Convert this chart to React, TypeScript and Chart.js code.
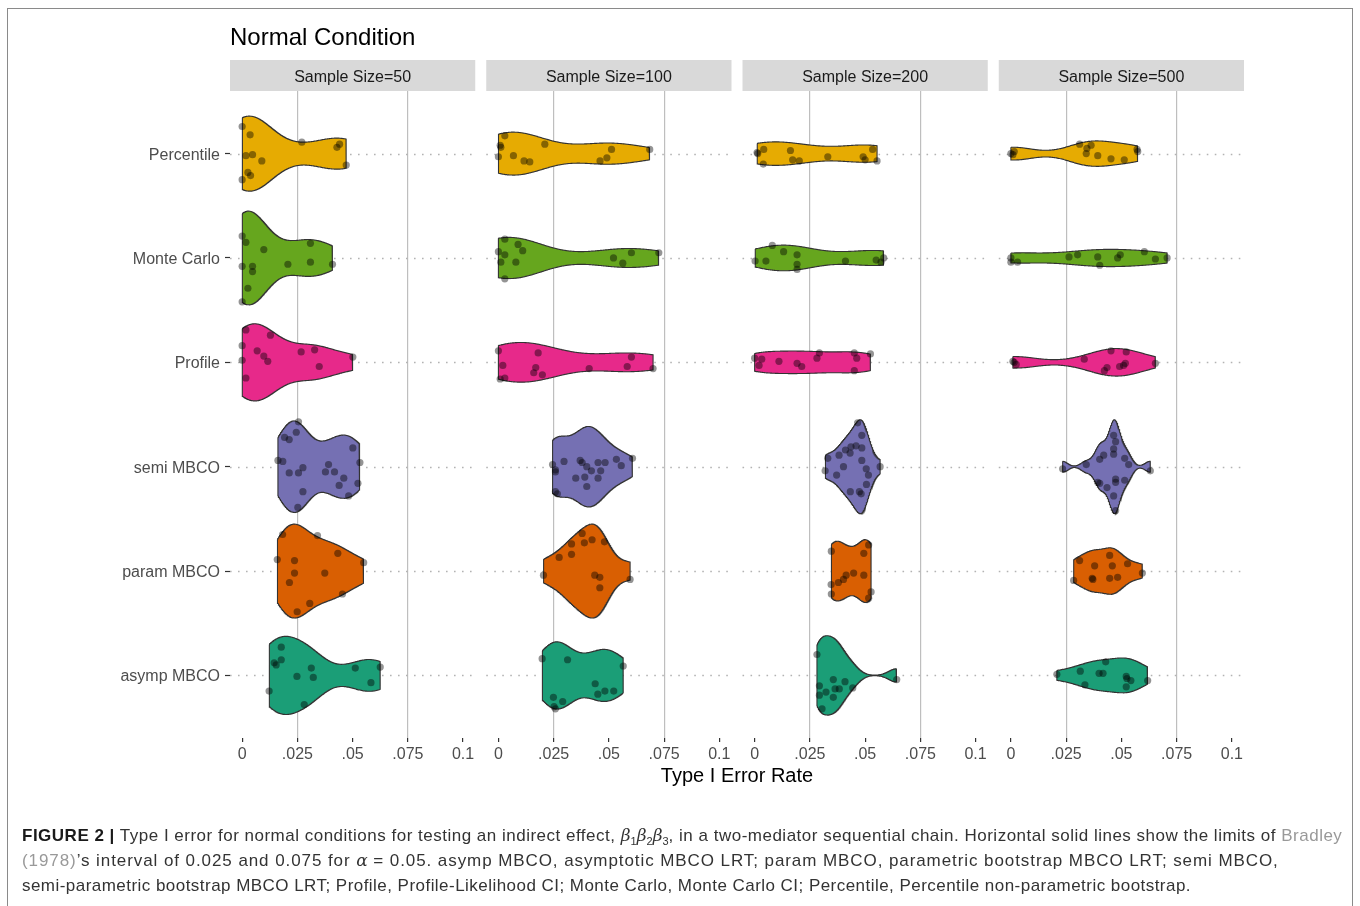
import React, { useEffect, useRef } from 'react';
import { Chart, registerables } from 'chart.js';

Chart.register(...registerables);

const FONT = '"Liberation Sans", Arial, Helvetica, sans-serif';

// ---------------- data ----------------
const SAMPLE_SIZES = [50, 100, 200, 500];
const METHODS = ['Percentile', 'Monte Carlo', 'Profile', 'semi MBCO', 'param MBCO', 'asymp MBCO'];
const METHOD_COLORS = ['#E6AB02', '#66A61E', '#E7298A', '#7570B3', '#D95F02', '#1B9E77'];
const X_TICKS = [0, 0.025, 0.05, 0.075, 0.1];
const X_TICK_LABELS = ['0', '.025', '.05', '.075', '0.1'];
const BRADLEY_LIMITS = [0.025, 0.075];
const X_LIMITS = [-0.0055, 0.1055];

// Type I error rates per method (order of METHODS), sample size 50
const RATE_N50 = [
  [0, 0.0036, 0.027, 0.0441, 0.0429, 0.0017, 0.0047, 0.0089, 0.0471, 0.0026, 0.0038, 0],
  [0, 0.0017, 0.0098, 0.0309, 0, 0.0047, 0.0047, 0.0207, 0.0309, 0.0409, 0.0026, 0],
  [0.0017, 0.0128, 0, 0.0068, 0.0098, 0.0116, 0.0267, 0.0328, 0.0501, 0, 0.0349, 0.0017],
  [0.0255, 0.0245, 0.0192, 0.0213, 0.0501, 0.0162, 0.0184, 0.0533, 0.0391, 0.0275, 0.0213, 0.0255, 0.0377, 0.0418, 0.046, 0.0524, 0.0439, 0.0275, 0.0482, 0.0252],
  [0.0183, 0.0341, 0.0433, 0.0159, 0.0237, 0.055, 0.0237, 0.0374, 0.0214, 0.0454, 0.0306, 0.0249],
  [0.0177, 0.0145, 0.0154, 0.0177, 0.0313, 0.0248, 0.0322, 0.0512, 0.0625, 0.0583, 0.0122, 0.0281],
];
const JITTER_N50 = [
  [-0.26, -0.18, -0.11, -0.09, -0.06, 0.02, 0.01, 0.07, 0.11, 0.18, 0.21, 0.25],
  [-0.21, -0.15, -0.08, -0.14, 0.08, 0.08, 0.13, 0.06, 0.04, 0.06, 0.29, 0.42],
  [-0.31, -0.26, -0.16, -0.11, -0.06, -0.01, -0.1, -0.12, -0.05, -0.02, 0.04, 0.15],
  [-0.43, -0.33, -0.28, -0.26, -0.18, -0.06, -0.05, -0.04, -0.02, 0.01, 0.06, 0.06, 0.05, 0.05, 0.11, 0.16, 0.18, 0.24, 0.28, 0.39],
  [-0.35, -0.34, -0.17, -0.11, -0.1, -0.08, 0.02, 0.02, 0.11, 0.22, 0.31, 0.39],
  [-0.27, -0.12, -0.1, -0.15, -0.07, 0.01, 0.02, -0.07, -0.08, 0.07, 0.15, 0.28],
];

// sample size 100
const RATE_N100 = [
  [0.0029, 0.0008, 0.0011, 0, 0.0068, 0.0116, 0.0142, 0.021, 0.0512, 0.0491, 0.046, 0.0685],
  [0.0029, 0.0089, 0.011, 0, 0.0029, 0.0011, 0.0079, 0.0029, 0.0521, 0.0563, 0.0602, 0.0726],
  [0, 0.002, 0.0008, 0.0029, 0.018, 0.0169, 0.016, 0.0199, 0.0411, 0.0602, 0.0583, 0.07],
  [0.0245, 0.0258, 0.0258, 0.0297, 0.037, 0.0379, 0.04, 0.0421, 0.0463, 0.0451, 0.0483, 0.035, 0.0391, 0.0451, 0.04, 0.0534, 0.0556, 0.0607, 0.0258, 0.0267],
  [0.0379, 0.0331, 0.0424, 0.0389, 0.048, 0.0275, 0.0331, 0.0204, 0.0436, 0.0459, 0.0459, 0.0596],
  [0.0198, 0.0313, 0.0565, 0.0438, 0.045, 0.0482, 0.0522, 0.0249, 0.0291, 0.0252, 0.0258],
];
const JITTER_N100 = [
  [-0.17, -0.08, -0.06, 0.03, 0.02, 0.07, 0.08, -0.09, -0.04, 0.04, 0.07, -0.04],
  [-0.18, -0.13, -0.07, -0.06, -0.03, 0.04, 0.04, 0.2, 0, 0.05, -0.05, -0.05],
  [-0.11, 0.03, 0.16, 0.15, -0.09, 0.05, 0.1, 0.12, 0.06, -0.05, 0.04, 0.06],
  [-0.02, 0.03, 0.05, -0.05, -0.06, -0.04, 0, 0.04, 0.04, -0.04, -0.04, 0.11, 0.1, 0.11, 0.19, -0.07, -0.01, -0.08, 0.24, 0.26],
  [-0.36, -0.26, -0.3, -0.27, -0.28, -0.13, -0.16, 0.04, 0.04, 0.06, 0.16, 0.08],
  [-0.16, -0.15, -0.09, 0.08, 0.18, 0.15, 0.15, 0.21, 0.25, 0.3, 0.32],
];

// sample size 200
const RATE_N200 = [
  [0.0011, 0.0041, 0.0039, 0.0162, 0.0172, 0.0202, 0.0331, 0.0491, 0.05, 0.0534, 0.0554, 0.0014],
  [0.0002, 0.008, 0.0051, 0.0131, 0.0192, 0.0192, 0.0192, 0.0411, 0.055, 0.0572, 0.0584],
  [0, 0.0032, 0.002, 0.011, 0.0192, 0.0213, 0.0282, 0.0293, 0.0451, 0.0462, 0.0451, 0.0524],
  [0.0466, 0.0485, 0.0459, 0.0436, 0.0485, 0.0411, 0.0432, 0.0382, 0.0331, 0.0319, 0.0402, 0.0485, 0.0505, 0.0515, 0.0568, 0.0371, 0.0506, 0.0433, 0.0474, 0.0482],
  [0.0347, 0.0516, 0.0494, 0.0448, 0.0494, 0.0414, 0.0402, 0.0379, 0.0346, 0.0347, 0.0527, 0.0516],
  [0.0282, 0.0356, 0.0409, 0.0444, 0.0383, 0.0364, 0.0293, 0.0323, 0.0293, 0.0356, 0.0305, 0.0643],
];
const JITTER_N200 = [
  [-0.01, -0.04, 0.1, -0.03, 0.06, 0.07, 0.03, 0.03, 0.06, -0.04, 0.07, 0],
  [0.03, -0.12, 0.03, -0.06, -0.03, 0.06, 0.11, 0.03, 0.02, 0.04, 0],
  [-0.04, -0.03, 0.03, -0.01, 0.01, 0.04, -0.04, -0.09, -0.09, -0.04, 0.08, -0.08],
  [-0.42, -0.3, -0.2, -0.19, -0.18, -0.16, -0.13, -0.11, -0.08, 0.04, 0, -0.06, 0.02, 0.08, 0, 0.08, 0.17, 0.24, 0.24, 0.26],
  [-0.19, -0.25, -0.17, 0.02, 0.04, 0.04, 0.08, 0.11, 0.13, 0.22, 0.2, 0.26],
  [-0.2, 0.04, 0.06, 0.12, 0.13, 0.13, 0.1, 0.16, 0.19, 0.21, 0.32, 0.04],
];

// sample size 500
const RATE_N500 = [
  [0, 0.0015, 0.0311, 0.0344, 0.0363, 0.0341, 0.0393, 0.0453, 0.0513, 0.0571, 0.0574, 0.0009],
  [0, 0, 0.003, 0.0263, 0.0302, 0.0393, 0.0402, 0.0483, 0.0495, 0.0604, 0.0654, 0.0707],
  [0.0015, 0.0024, 0.0332, 0.0453, 0.0522, 0.0435, 0.0423, 0.0492, 0.0518, 0.051, 0.0654, 0.0009],
  [0.0234, 0.0631, 0.0341, 0.0402, 0.042, 0.0465, 0.0474, 0.0465, 0.0465, 0.0515, 0.0533, 0.0515, 0.0474, 0.0474, 0.0435, 0.0402, 0.0393, 0.0465, 0.0474],
  [0.0311, 0.0447, 0.0379, 0.0459, 0.0528, 0.0284, 0.0368, 0.0371, 0.0447, 0.0483, 0.0595],
  [0.0208, 0.0314, 0.0335, 0.0429, 0.0399, 0.0417, 0.0522, 0.0525, 0.0543, 0.0522, 0.0619],
];
const JITTER_N500 = [
  [0, -0.02, -0.09, -0.05, -0.08, 0, 0.02, 0.05, 0.06, -0.04, -0.02, 0.01],
  [0, 0.04, 0.04, -0.01, -0.03, -0.01, 0.07, 0, -0.03, -0.06, 0.01, 0],
  [0, 0.02, -0.03, -0.11, -0.1, 0.05, 0.08, 0.04, 0.01, 0.03, 0.01, -0.01],
  [0.02, 0.04, -0.02, -0.07, -0.11, -0.3, -0.24, -0.17, -0.12, -0.08, -0.02, 0.13, 0.12, 0.15, 0.2, 0.16, 0.15, 0.28, 0.42],
  [-0.1, -0.15, -0.05, -0.05, -0.07, 0.09, 0.07, 0.08, 0.07, 0.06, 0.02],
  [-0.01, -0.04, 0.09, -0.13, -0.02, -0.02, 0.01, 0.03, 0.05, 0.11, 0.05],
];

const RATES = [RATE_N50, RATE_N100, RATE_N200, RATE_N500];
const JITTERS = [JITTER_N50, JITTER_N100, JITTER_N200, JITTER_N500];

// ---------------- layout helpers ----------------
const PANEL_W = X_LIMITS[1] - X_LIMITS[0];
const PANEL_GAP = (PANEL_W * 11) / 245;
const STRIDE = PANEL_W + PANEL_GAP;
const X_MIN = X_LIMITS[0];
const X_MAX = X_LIMITS[0] + SAMPLE_SIZES.length * PANEL_W + (SAMPLE_SIZES.length - 1) * PANEL_GAP;

// R's bw.nrd0
function bwNrd0(x: number[]): number {
  const n = x.length;
  const mean = x.reduce((a, b) => a + b, 0) / n;
  const sd = Math.sqrt(x.reduce((a, b) => a + (b - mean) ** 2, 0) / (n - 1));
  const s = [...x].sort((a, b) => a - b);
  const q = (p: number) => {
    const h = (n - 1) * p;
    const lo = Math.floor(h);
    const hi = Math.ceil(h);
    return s[lo] + (h - lo) * (s[hi] - s[lo]);
  };
  const iqr = q(0.75) - q(0.25);
  let lo = Math.min(sd, iqr / 1.34);
  if (!(lo > 0)) lo = sd || Math.abs(s[0]) || 1;
  return 0.9 * lo * Math.pow(n, -0.2);
}

// gaussian kernel density, trimmed to data range (ggplot violin default)
function kde(x: number[], n = 512): [number, number][] {
  const bw = bwNrd0(x);
  const min = Math.min(...x);
  const max = Math.max(...x);
  const out: [number, number][] = [];
  const norm = x.length * bw * Math.sqrt(2 * Math.PI);
  for (let i = 0; i < n; i++) {
    const t = min + ((max - min) * i) / (n - 1);
    let d = 0;
    for (const v of x) {
      const z = (t - v) / bw;
      d += Math.exp(-0.5 * z * z);
    }
    out.push([t, d / norm]);
  }
  return out;
}

function buildDatasets() {
  const datasets: any[] = [];
  RATES.forEach((panel, k) => {
    const off = k * STRIDE;
    const dens = panel.map((vals) => kde(vals));
    let maxD = 0;
    dens.forEach((d) => d.forEach((p) => { if (p[1] > maxD) maxD = p[1]; }));
    dens.forEach((d, m) => {
      const cy = m + 1;
      const top = d.map(([t, v]) => ({ x: t + off, y: cy - (0.45 * v) / maxD }));
      const bottom = d
        .slice()
        .reverse()
        .map(([t, v]) => ({ x: t + off, y: cy + (0.45 * v) / maxD }));
      datasets.push({
        type: 'line',
        data: [...top, ...bottom, top[0]],
        borderColor: '#333333',
        borderWidth: 1.1,
        backgroundColor: METHOD_COLORS[m],
        fill: 'shape',
        pointRadius: 0,
        pointHoverRadius: 0,
        tension: 0,
        order: 2,
      });
      datasets.push({
        type: 'scatter',
        data: panel[m].map((v, j) => ({ x: v + off, y: cy + JITTERS[k][m][j] })),
        pointRadius: 3.6,
        pointHoverRadius: 3.6,
        pointBackgroundColor: 'rgba(0,0,0,0.42)',
        pointBorderWidth: 0,
        showLine: false,
        order: 1,
      });
    });
  });
  return datasets;
}

const decorPlugin = {
  id: 'decor',
  beforeDatasetsDraw(chart: any) {
    const { ctx, scales } = chart;
    const x = scales.x;
    const y = scales.y;
    ctx.save();
    ctx.strokeStyle = '#B3B3B3';
    ctx.lineWidth = 1.5;
    ctx.setLineDash([1.6, 6.4]);
    SAMPLE_SIZES.forEach((_, k) => {
      const l = x.getPixelForValue(X_LIMITS[0] + k * STRIDE);
      const r = x.getPixelForValue(X_LIMITS[1] + k * STRIDE);
      METHODS.forEach((__, i) => {
        const py = Math.round(y.getPixelForValue(i + 1)) + 0.5;
        ctx.beginPath();
        ctx.moveTo(l, py);
        ctx.lineTo(r, py);
        ctx.stroke();
      });
    });
    ctx.restore();
  },
  afterDraw(chart: any) {
    const { ctx, chartArea, scales } = chart;
    const x = scales.x;
    ctx.save();
    // title
    ctx.fillStyle = '#000000';
    ctx.font = `24px ${FONT}`;
    ctx.textAlign = 'left';
    ctx.textBaseline = 'alphabetic';
    ctx.fillText('Normal Condition', chartArea.left, 37);
    // strips
    SAMPLE_SIZES.forEach((n, k) => {
      const l = x.getPixelForValue(X_LIMITS[0] + k * STRIDE);
      const r = x.getPixelForValue(X_LIMITS[1] + k * STRIDE);
      ctx.fillStyle = '#D9D9D9';
      ctx.fillRect(l, chartArea.top - 31, r - l, 31);
      ctx.fillStyle = '#1A1A1A';
      ctx.font = `16px ${FONT}`;
      ctx.textAlign = 'center';
      ctx.fillText(`Sample Size=${n}`, (l + r) / 2, chartArea.top - 9);
    });
    // x axis title
    ctx.fillStyle = '#000000';
    ctx.font = `20px ${FONT}`;
    ctx.textAlign = 'center';
    ctx.fillText('Type I Error Rate', (chartArea.left + chartArea.right) / 2, 774);
    ctx.restore();
  },
};

function ViolinChart() {
  const ref = useRef<HTMLCanvasElement | null>(null);
  useEffect(() => {
    if (!ref.current) return;
    const chart = new Chart(ref.current, {
      type: 'scatter',
      data: { datasets: buildDatasets() },
      options: {
        animation: false,
        responsive: false,
        events: [],
        layout: { padding: { top: 83, right: 108, bottom: 30, left: 0 } },
        plugins: { legend: { display: false }, tooltip: { enabled: false } },
        scales: {
          x: {
            type: 'linear',
            min: X_MIN,
            max: X_MAX,
            afterBuildTicks: (s: any) => {
              s.ticks = SAMPLE_SIZES.flatMap((_, k) => X_TICKS.map((t) => ({ value: t + k * STRIDE })));
            },
            afterFit: (s: any) => { s.height = 40; },
            ticks: {
              autoSkip: false,
              maxRotation: 0,
              padding: 3,
              color: '#4D4D4D',
              font: { family: FONT, size: 16 },
              callback: (_v: any, i: number) => X_TICK_LABELS[i % X_TICKS.length],
            },
            grid: {
              color: (c: any) =>
                BRADLEY_LIMITS.includes(X_TICKS[c.index % X_TICKS.length]) ? '#BEBEBE' : 'rgba(0,0,0,0)',
              lineWidth: 1.2,
              tickLength: 4,
              tickColor: '#333333',
              tickWidth: 1.2,
            },
            border: { display: false },
          },
          y: {
            type: 'linear',
            min: 0.4,
            max: 6.6,
            reverse: true,
            afterBuildTicks: (s: any) => {
              s.ticks = METHODS.map((_, i) => ({ value: i + 1 }));
            },
            afterFit: (s: any) => { s.width = 222; },
            ticks: {
              autoSkip: false,
              padding: 5,
              labelOffset: 1.5,
              color: '#4D4D4D',
              font: { family: FONT, size: 16 },
              callback: (v: any) => METHODS[Math.round(v) - 1],
            },
            grid: {
              drawOnChartArea: false,
              tickLength: 5,
              tickColor: '#333333',
              tickWidth: 1.2,
            },
            border: { display: false },
          },
        },
      },
      plugins: [decorPlugin],
    } as any);
    return () => chart.destroy();
  }, []);
  return <canvas ref={ref} width={1344} height={800} style={{ display: 'block', width: 1344, height: 800 }} />;
}

const capStyle: React.CSSProperties = {
  height: 25,
  lineHeight: '25px',
  whiteSpace: 'nowrap',
};

const mathStyle: React.CSSProperties = { fontFamily: '"DejaVu Serif", serif', fontStyle: 'italic', letterSpacing: 0 };
const subStyle: React.CSSProperties = { fontSize: 11, letterSpacing: 0 };

export default function App() {
  return (
    <div style={{ position: 'relative', width: 1344, height: 890, fontFamily: FONT }}>
      <div
        style={{
          position: 'fixed',
          left: 7,
          top: 8,
          width: 1344,
          height: 1000,
          border: '1px solid #8A8A8A',
          pointerEvents: 'none',
        }}
      />
      <ViolinChart />
      <div style={{ position: 'absolute', left: 14, top: 815, fontSize: 17, color: '#333333' }}>
        <div style={{ ...capStyle, letterSpacing: '0.5px' }}>
          <b style={{ color: '#1A1A1A' }}>FIGURE 2 |</b> Type I error for normal conditions for testing an indirect effect,{' '}
          <span style={mathStyle}>β</span><sub style={subStyle}>1</sub>
          <span style={mathStyle}>β</span><sub style={subStyle}>2</sub>
          <span style={mathStyle}>β</span><sub style={subStyle}>3</sub>, in a
          two-mediator sequential chain. Horizontal solid lines show the limits of{' '}
          <span style={{ color: '#999999' }}>Bradley</span>
        </div>
        <div style={{ ...capStyle, letterSpacing: '0.92px' }}>
          <span style={{ color: '#999999' }}>(1978)</span>’s interval of 0.025 and 0.075 for{' '}
          <span style={mathStyle}>α</span> = 0.05. asymp MBCO, asymptotic MBCO
          LRT; param MBCO, parametric bootstrap MBCO LRT; semi MBCO,
        </div>
        <div style={{ ...capStyle, letterSpacing: '0.46px' }}>
          semi-parametric bootstrap MBCO LRT; Profile, Profile-Likelihood CI; Monte Carlo, Monte Carlo CI; Percentile, Percentile
          non-parametric bootstrap.
        </div>
      </div>
    </div>
  );
}
